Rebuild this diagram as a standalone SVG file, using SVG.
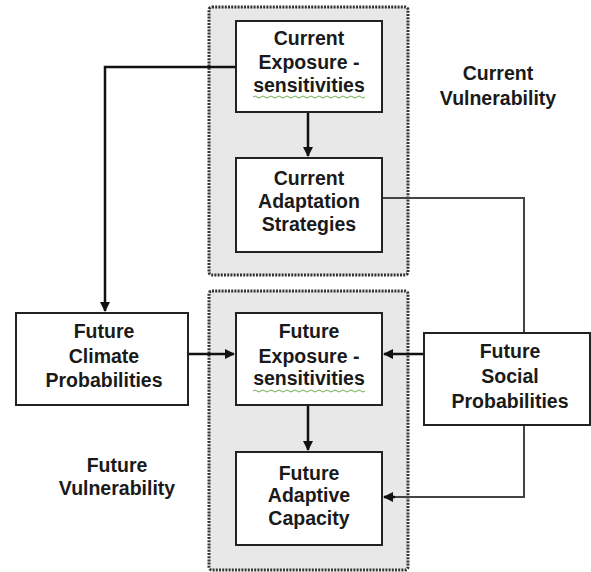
<svg xmlns="http://www.w3.org/2000/svg" width="591" height="572" viewBox="0 0 591 572">
<style>
.grp{fill:#e8e8e8;stroke:#333;stroke-width:3;stroke-dasharray:2 1.2}
.box{fill:#fff;stroke:#222;stroke-width:2}
.t{font-family:"Liberation Sans",Arial,sans-serif;font-weight:bold;font-size:19.5px;fill:#1a1a1a;text-anchor:middle}
.c{fill:none;stroke:#111;stroke-width:2.5}
.c2{fill:none;stroke:#444;stroke-width:2}
.sq{fill:none;stroke:#6ab04c;stroke-width:1}
</style>
<defs>
<marker id="ah" viewBox="0 0 10 10" refX="9" refY="5" markerWidth="4" markerHeight="4" orient="auto" markerUnits="strokeWidth">
<path d="M0,0 L10,5 L0,10 z" fill="#111"/>
</marker>
</defs>
<g id="current-vulnerability-group">
<rect class="grp" x="209" y="7" width="199" height="268" rx="3"/>
</g>
<g id="future-vulnerability-group">
<rect class="grp" x="209" y="291" width="199" height="279" rx="3"/>
</g>
<g id="connectors">
<path class="c" d="M308,112 V156" marker-end="url(#ah)"/>
<path class="c" d="M308,405 V450" marker-end="url(#ah)"/>
<path class="c" d="M236,67 H105 V311" marker-end="url(#ah)"/>
<path class="c" d="M188,354 H234" marker-end="url(#ah)"/>
<path class="c" d="M424,354 H384" marker-end="url(#ah)"/>
<path class="c2" d="M382,198 H524 V333"/>
<path class="c2" d="M524,425 V497 H386"/>
<path class="c" d="M395,497 H384" marker-end="url(#ah)"/>
</g>
<g id="current-exposure">
<rect class="box" x="236" y="21" width="146" height="91"/>
<text class="t" x="309" y="45">Current</text>
<text class="t" x="309" y="69">Exposure -</text>
<text class="t" x="309" y="92">sensitivities</text>
<path class="sq" d="M253,97 q2,-2 4,0 t4,0 t4,0 t4,0 t4,0 t4,0 t4,0 t4,0 t4,0 t4,0 t4,0 t4,0 t4,0 t4,0 t4,0 t4,0 t4,0 t4,0 t4,0 t4,0 t4,0 t4,0 t4,0 t4,0 t4,0 t4,0 t4,0 t4,0"/>
</g>
<g id="current-adaptation">
<rect class="box" x="236" y="158" width="146" height="94"/>
<text class="t" x="309" y="185">Current</text>
<text class="t" x="309" y="208">Adaptation</text>
<text class="t" x="309" y="231">Strategies</text>
</g>
<g id="future-exposure">
<rect class="box" x="236" y="313" width="146" height="92"/>
<text class="t" x="309" y="338">Future</text>
<text class="t" x="309" y="363">Exposure -</text>
<text class="t" x="309" y="385">sensitivities</text>
<path class="sq" d="M253,391 q2,-2 4,0 t4,0 t4,0 t4,0 t4,0 t4,0 t4,0 t4,0 t4,0 t4,0 t4,0 t4,0 t4,0 t4,0 t4,0 t4,0 t4,0 t4,0 t4,0 t4,0 t4,0 t4,0 t4,0 t4,0 t4,0 t4,0 t4,0 t4,0"/>
</g>
<g id="future-adaptive">
<rect class="box" x="236" y="452" width="146" height="93"/>
<text class="t" x="309" y="480">Future</text>
<text class="t" x="309" y="502">Adaptive</text>
<text class="t" x="309" y="525">Capacity</text>
</g>
<g id="future-climate">
<rect class="box" x="16" y="313" width="172" height="92"/>
<text class="t" x="104" y="338">Future</text>
<text class="t" x="104" y="363">Climate</text>
<text class="t" x="104" y="387">Probabilities</text>
</g>
<g id="future-social">
<rect class="box" x="424" y="333" width="166" height="92"/>
<text class="t" x="510" y="358">Future</text>
<text class="t" x="510" y="383">Social</text>
<text class="t" x="510" y="408">Probabilities</text>
</g>
<g id="label-current-vulnerability">
<text class="t" x="498" y="80">Current</text>
<text class="t" x="498" y="105">Vulnerability</text>
</g>
<g id="label-future-vulnerability">
<text class="t" x="117" y="472">Future</text>
<text class="t" x="117" y="495">Vulnerability</text>
</g>
</svg>
